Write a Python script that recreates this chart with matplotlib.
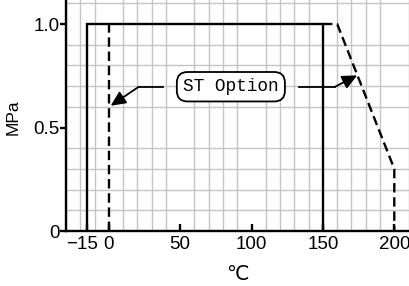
import matplotlib
matplotlib.use("Agg")
import matplotlib.pyplot as plt
import matplotlib.transforms as mtransforms
import numpy as np

# Data: solid range (standard) and dashed range (ST option)
std_temp = [-15, -15, 150, 150]
std_press = [0, 1.0, 1.0, 0]
st_low_temp = [0, 0]
st_low_press = [0, 1.0]
st_high_temp = [150, 160, 200, 200]
st_high_press = [1.0, 1.0, 0.3, 0]

xtick_vals = [-15, 0, 50, 100, 150, 200]
xtick_labels = ["\u221215", "0", "50", "100", "150", "200"]
ytick_vals = [0, 0.5, 1.0]
ytick_labels = ["0", "0.5", "1.0"]

label_text = "ST Option"
label_pos = (85.5, 0.697)

plt.rcParams["font.family"] = ["Liberation Sans", "DejaVu Sans"]

fig = plt.figure(figsize=(4.10, 2.86), dpi=100)
ax = fig.add_axes([66 / 410, 55 / 286, 344 / 410, 231 / 286])
ax.set_xlim(-30, 211)
ax.set_ylim(0, 1.116)

# grid every 10 degC / 0.1 MPa
ax.set_xticks(np.arange(-30, 211, 10), minor=True)
ax.set_yticks(np.arange(0, 1.12, 0.1), minor=True)
ax.grid(which="minor", color="#c4c4c4", linewidth=1.0)
ax.grid(which="major", visible=False)
ax.set_axisbelow(True)

ax.plot(std_temp, std_press, color="black", linewidth=1.7, solid_joinstyle="miter")
ax.plot(st_low_temp, st_low_press, color="black", linewidth=1.7, linestyle=(0, (4, 2)))
ax.plot(st_high_temp, st_high_press, color="black", linewidth=1.7, linestyle=(0, (4, 2)))

for s in ["top", "right"]:
    ax.spines[s].set_visible(False)
for s in ["left", "bottom"]:
    ax.spines[s].set_linewidth(1.7)

ax.set_xticks(xtick_vals)
ax.set_xticklabels(xtick_labels)
ax.set_yticks(ytick_vals)
ax.set_yticklabels(ytick_labels)
ax.tick_params(axis="x", which="major", direction="in", length=5, width=1.7, pad=3.5, labelsize=13.5)
ax.tick_params(axis="y", which="major", direction="out", length=4, width=1.7, pad=0.5, labelsize=13.5)
ax.tick_params(which="minor", length=0)

# nudge "-15" left so it clears "0"
lbl = ax.get_xticklabels()[0]
lbl.set_transform(lbl.get_transform() + mtransforms.ScaledTranslation(-5 / 100, 0, fig.dpi_scale_trans))

fig.text(13 / 410, 1 - 117 / 286, "MPa", rotation=90, ha="center", va="center", fontsize=12.5)
fig.text(237 / 410, 1 - 274 / 286, "\u2103", ha="center", va="center", fontsize=14.5,
         family=["DejaVu Sans"])

# ST Option callout
ax.text(label_pos[0], label_pos[1], label_text, ha="center", va="center",
        family="Liberation Mono", fontsize=12.8,
        bbox=dict(boxstyle="round,pad=0.35,rounding_size=0.6", fc="white", ec="black", lw=1.3))
arrow = dict(arrowstyle="-|>,head_length=0.6,head_width=0.28", color="black", lw=1.3,
             shrinkA=0, shrinkB=0, mutation_scale=15)
ax.plot([38, 21], [0.697, 0.697], color="black", lw=1.3)
ax.annotate("", xy=(1.3, 0.605), xytext=(21, 0.697), arrowprops=arrow)
ax.plot([133, 158.5], [0.697, 0.697], color="black", lw=1.3)
ax.annotate("", xy=(174, 0.752), xytext=(158.5, 0.697), arrowprops=arrow)

fig.savefig("out.png", dpi=100)
